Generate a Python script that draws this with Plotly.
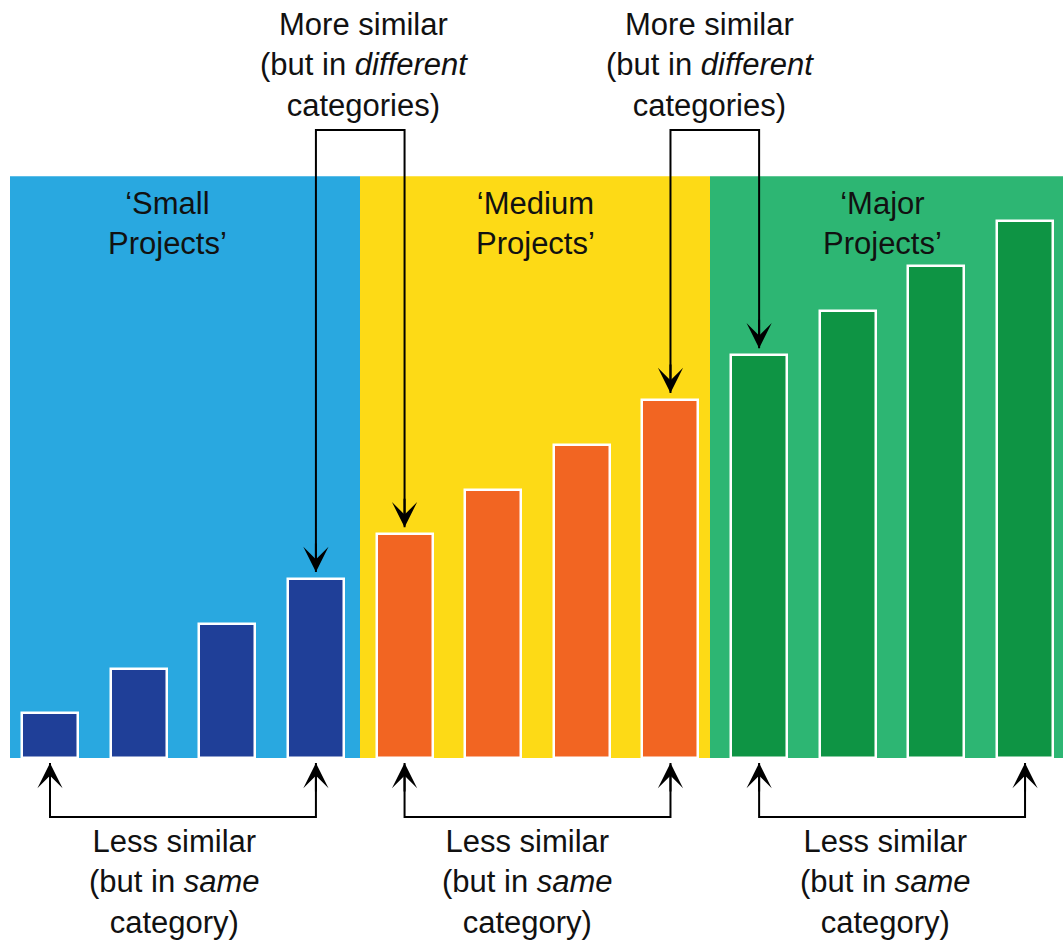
import plotly.graph_objects as go

# ---------------- data ----------------
groups = ["Small Projects", "Medium Projects", "Major Projects"]
group_labels = ["‘Small<br>Projects’", "‘Medium<br>Projects’", "‘Major<br>Projects’"]
bar_index = [0, 1, 2, 3, 4, 5, 6, 7, 8, 9, 10, 11]
bar_values = [1, 2, 3, 4, 5, 6, 7, 8, 9, 10, 11, 12]
bar_group = [0, 0, 0, 0, 1, 1, 1, 1, 2, 2, 2, 2]
bg_colors = ["#29a8e0", "#fdda16", "#2db673"]
bar_colors = ["#1f3f98", "#f26522", "#0e9444"]
top_text = "More similar<br>(but in <i>different</i><br>categories)"
bottom_text = "Less similar<br>(but in <i>same</i><br>category)"
region_height = 13

# ---------------- geometry (pixel mapping) ----------------
W, H = 1063, 941
px_per_x = 88.64
px_x0 = 50.0       # pixel of bar 0 center
px_per_y = 44.75
px_base = 758.0    # pixel of y = 0


def xd(px):
    return (px - px_x0) / px_per_x


def yd(py):
    return (px_base - py) / px_per_y


fig = go.Figure()

fig.add_trace(go.Bar(
    x=bar_index,
    y=bar_values,
    width=0.632,
    marker=dict(color=[bar_colors[g] for g in bar_group],
                line=dict(color="white", width=2.5)),
    hoverinfo="skip",
    showlegend=False,
))

# background regions
region_edges = [xd(10), xd(360), xd(710), xd(1070)]
shapes = []
for i in range(3):
    shapes.append(dict(type="rect", xref="x", yref="y",
                       x0=region_edges[i], x1=region_edges[i + 1],
                       y0=0, y1=region_height,
                       fillcolor=bg_colors[i], line=dict(width=0),
                       layer="below"))

annotations = []
line_style = dict(color="black", width=2)
gap = 7 / px_per_y
top_y = yd(130)
bot_y = yd(817)
tip_bot = yd(763)
arrow = dict(showarrow=True, arrowhead=3, arrowsize=2.1, arrowwidth=2,
             arrowcolor="black", axref="pixel", ayref="pixel", text="")

# top brackets: last bar of group -> first bar of next group
for a, b in [(3, 4), (7, 8)]:
    ya = bar_values[a] + gap
    yb = bar_values[b] + gap
    shapes.append(dict(type="path", xref="x", yref="y",
                       path=f"M {a},{ya} L {a},{top_y} L {b},{top_y} L {b},{yb}",
                       line=line_style))
    for xx, yy in [(a, ya), (b, yb)]:
        annotations.append(dict(x=xx, y=yy, xref="x", yref="y",
                                ax=0, ay=-30, **arrow))

# bottom brackets: first bar to last bar of each group
for a, b in [(0, 3), (4, 7), (8, 11)]:
    shapes.append(dict(type="path", xref="x", yref="y",
                       path=f"M {a},{tip_bot} L {a},{bot_y} L {b},{bot_y} L {b},{tip_bot}",
                       line=line_style))
    for xx in (a, b):
        annotations.append(dict(x=xx, y=tip_bot, xref="x", yref="y",
                                ax=0, ay=30, **arrow))

font = dict(family="Liberation Sans, Arial, sans-serif", size=31, color="#111111")

# group labels
for lbl, pxx in zip(group_labels, [167, 535, 882]):
    annotations.append(dict(x=xd(pxx), y=yd(223), xref="x", yref="y",
                            text=lbl, showarrow=False, font=font,
                            xanchor="center", yanchor="middle"))

# top texts
for pxx in [364, 710]:
    annotations.append(dict(x=xd(pxx), y=yd(65), xref="x", yref="y",
                            text=top_text, showarrow=False, font=font,
                            xanchor="center", yanchor="middle"))

# bottom texts
for pxx in [174, 527, 885]:
    annotations.append(dict(x=xd(pxx), y=yd(882), xref="x", yref="y",
                            text=bottom_text, showarrow=False, font=font,
                            xanchor="center", yanchor="middle"))

fig.update_layout(
    width=W, height=H,
    margin=dict(l=0, r=0, t=0, b=0),
    paper_bgcolor="white", plot_bgcolor="white",
    xaxis=dict(range=[xd(0), xd(W)], visible=False, fixedrange=True),
    yaxis=dict(range=[yd(H), yd(0)], visible=False, fixedrange=True),
    shapes=shapes,
    annotations=annotations,
    bargap=0,
)

fig.write_html(
    "out.html",
    config={"displayModeBar": False},
    post_script="document.body.style.margin='0';document.body.style.padding='0';"
                "document.body.style.overflow='hidden';",
)
